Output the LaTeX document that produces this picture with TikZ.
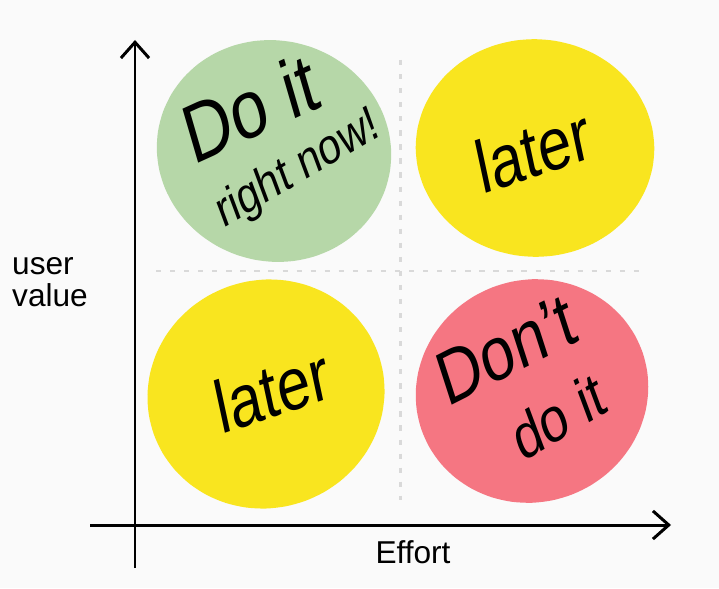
\documentclass[tikz,border=0pt]{standalone}
\usepackage{fontspec}
\setmainfont{Liberation Sans}
\usetikzlibrary{arrows.meta}
\definecolor{paper}{HTML}{FAFAFA}
\definecolor{sage}{HTML}{B6D7A8}
\definecolor{lemon}{HTML}{F9E51F}
\definecolor{rosy}{HTML}{F57682}
\definecolor{dotgray}{HTML}{D9D9D9}
\tikzset {
  axis line/.style = {
    line width=1.7pt,
    -{Straight Barb[length=9pt,width=16pt,line width=1.7pt]}
  },
  divider/.style = {
    dotgray,
    line width=1.7pt,
    dash pattern=on 3pt off 5pt
  },
  scrawl/.style = {
    inner sep=0pt,
    align=center,
    yscale=1.25
  },
  pics/blob/.style args = {#1 #2 #3}{
    code = {
      \fill[pic actions] plot [smooth cycle, domain=0:350, samples=36]
      ({#1*cos(\x)*(1+0.02*sin(2*\x+#3))},
       {#2*sin(\x)*(1+0.02*sin(2*\x+#3))});
    }
  }
}
\newcommand{\penpt}[1]{\fontsize{#1}{#1}\selectfont}

\begin{document}
\begin{tikzpicture}[x=0.02cm, y=-0.02cm]

\fill[paper] (0,0) rectangle (719,588);
\useasboundingbox (0,0) rectangle (719,588);

% --- Quadrant blobs ---
\coordinate (Q1) at (274,151);
\coordinate (Q2) at (535,148);
\coordinate (Q3) at (266,394);
\coordinate (Q4) at (532,391);

\pic[sage]  at (Q1) {blob={116 112 30}};
\pic[lemon] at (Q2) {blob={117 111 80}};
\pic[lemon] at (Q3) {blob={117 116 140}};
\pic[rosy]  at (Q4) {blob={117 111 200}};

% --- Dividers ---
\coordinate (vtop) at (400,60);
\coordinate (vbot) at (400,500);
\coordinate (hleft) at (156,271);
\coordinate (hright) at (647,271);
\draw[divider] (vtop) -- (vbot);
\draw[divider] (hleft) -- (hright);

% --- Axes ---
\coordinate (ytop) at (135,40);
\coordinate (ybot) at (135,568);
\coordinate (xleft) at (90,525);
\coordinate (xright) at (671,525);
\draw[axis line] (ybot) -- (ytop);
\draw[axis line] (xleft) -- (xright);

\node[align=left, inner sep=0pt, font=\penpt{18}] (uval) at (50,282) {user\\value};
\node[inner sep=0pt, font=\penpt{18}] (effort) at (413,552) {Effort};

% --- Labels ---
\node[scrawl, rotate=20, font=\penpt{38}] (doit) at (250,108) {Do it};
\node[scrawl, rotate=25, font=\penpt{23}] (rightnow) at (298,170) {right now!};
\node[scrawl, rotate=15, font=\penpt{34}] (latertop) at (533,150) {later};
\node[scrawl, rotate=15, font=\penpt{34}] (laterlow) at (272,390) {later};
\node[scrawl, rotate=22, font=\penpt{35}] (dont) at (506,350) {Don't};
\node[scrawl, rotate=25, font=\penpt{29}] (doitb) at (558,416) {do it};

\end{tikzpicture}
\end{document}
